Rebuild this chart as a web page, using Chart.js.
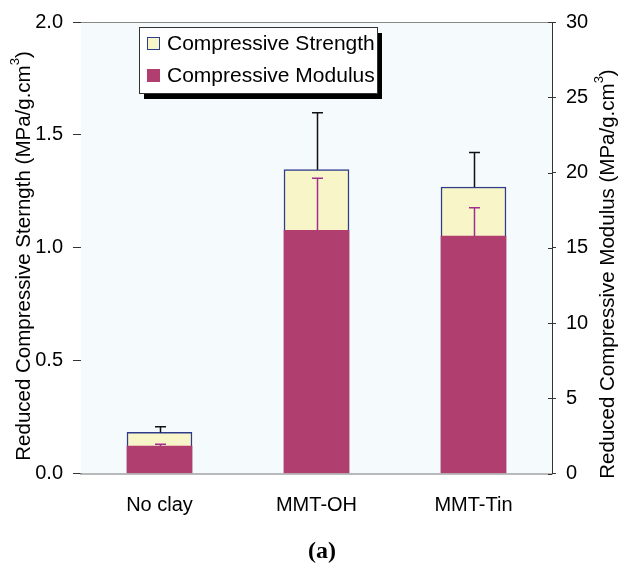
<!DOCTYPE html>
<html>
<head>
<meta charset="utf-8">
<script src="https://cdn.jsdelivr.net/npm/chart.js@4/dist/chart.umd.min.js"></script>
<style>
  body { margin: 0; background: #fff; }
  canvas { display: block; }
</style>
</head>
<body>
<canvas id="chart" width="618" height="564"></canvas>
<script>
// Data
const categories = ['No clay', 'MMT-OH', 'MMT-Tin'];
const strength = [0.182, 1.346, 1.269];
const strengthErr = [0.025, 0.252, 0.153];
const modulus = [1.82, 16.16, 15.77];
const modulusErr = [0.12, 3.45, 1.88];
const leftTicks = [0, 0.5, 1.0, 1.5, 2.0];
const rightTicks = [0, 5, 10, 15, 20, 25, 30];

const FONT = 'Liberation Sans, Arial, sans-serif';
const STRENGTH_FILL = '#F8F5C8';
const STRENGTH_BORDER = '#2E3C8C';
const MODULUS_FILL = '#B03F6F';

// Background, frame, error bars, legend and axis titles
const extras = {
    id: 'extras',
    beforeDatasetsDraw(chart) {
        const {ctx, chartArea: a} = chart;
        ctx.save();
        ctx.fillStyle = '#F5FAFD';
        ctx.fillRect(a.left, a.top, a.right - a.left, a.bottom - a.top);
        ctx.strokeStyle = '#888';
        ctx.lineWidth = 1;
        ctx.beginPath();
        ctx.moveTo(a.left, a.top + 0.5);
        ctx.lineTo(a.right, a.top + 0.5);
        ctx.stroke();
        ctx.restore();
    },
    afterDatasetsDraw(chart) {
        const {ctx} = chart;
        const y = chart.scales.y, y1 = chart.scales.y1;
        const drawErr = (meta, vals, errs, scale, color) => {
            meta.data.forEach((bar, i) => {
                const x = Math.round(bar.x) + 0.5;
                const y0 = scale.getPixelForValue(vals[i]);
                const yt = scale.getPixelForValue(vals[i] + errs[i]);
                ctx.strokeStyle = color;
                ctx.lineWidth = 1.5;
                ctx.beginPath();
                ctx.moveTo(x, y0);
                ctx.lineTo(x, yt);
                ctx.moveTo(x - 5.5, yt);
                ctx.lineTo(x + 5.5, yt);
                ctx.stroke();
            });
        };
        ctx.save();
        drawErr(chart.getDatasetMeta(1), modulus, modulusErr, y1, '#A0308F');
        drawErr(chart.getDatasetMeta(0), strength, strengthErr, y, '#111');
        ctx.restore();
    },
    afterDraw(chart) {
        const {ctx, chartArea: a} = chart;
        ctx.save();
        // inner half of right axis ticks
        const y1 = chart.scales.y1;
        ctx.strokeStyle = '#333';
        ctx.lineWidth = 1;
        rightTicks.forEach(v => {
            const py = Math.round(y1.getPixelForValue(v)) + 0.5;
            ctx.beginPath();
            ctx.moveTo(a.right - 4, py);
            ctx.lineTo(a.right, py);
            ctx.stroke();
        });

        // legend
        const lx = 139, ly = 27, lw = 238, lh = 66;
        ctx.fillStyle = '#000';
        ctx.fillRect(lx + 5, ly + 6, lw, lh);
        ctx.fillStyle = '#fff';
        ctx.fillRect(lx, ly, lw, lh);
        ctx.strokeStyle = '#333';
        ctx.lineWidth = 1;
        ctx.strokeRect(lx + 0.5, ly + 0.5, lw, lh);
        ctx.fillStyle = STRENGTH_FILL;
        ctx.fillRect(147, 37, 13, 13);
        ctx.strokeStyle = STRENGTH_BORDER;
        ctx.strokeRect(147.5, 37.5, 12, 12);
        ctx.fillStyle = MODULUS_FILL;
        ctx.fillRect(147, 69, 13, 13);
        ctx.fillStyle = '#000';
        ctx.font = '21px ' + FONT;
        ctx.textBaseline = 'middle';
        ctx.textAlign = 'left';
        ctx.fillText('Compressive Strength', 167, 44);
        ctx.fillText('Compressive Modulus', 167, 76);

        // axis titles with superscript
        const title = (cx, cy, text) => {
            ctx.save();
            ctx.translate(cx, cy);
            ctx.rotate(-Math.PI / 2);
            ctx.font = '20.5px ' + FONT;
            const w1 = ctx.measureText(text).width;
            ctx.font = '13px ' + FONT;
            const w2 = ctx.measureText('3').width;
            ctx.font = '20.5px ' + FONT;
            const w3 = ctx.measureText(')').width;
            let x = -(w1 + w2 + w3) / 2;
            ctx.textAlign = 'left';
            ctx.textBaseline = 'middle';
            ctx.fillText(text, x, 0);
            ctx.font = '13px ' + FONT;
            ctx.fillText('3', x + w1, -9);
            ctx.font = '20.5px ' + FONT;
            ctx.fillText(')', x + w1 + w2, 0);
            ctx.restore();
        };
        title(24, 256, 'Reduced Compressive Sterngth (MPa/g.cm');
        title(608, 274, 'Reduced Compressive Modulus (MPa/g.cm');

        // caption
        ctx.font = 'bold 24px Liberation Serif, Times New Roman, serif';
        ctx.textAlign = 'center';
        ctx.fillText('(a)', 322, 552);
        ctx.restore();
    }
};

new Chart(document.getElementById('chart'), {
    type: 'bar',
    data: {
        labels: categories,
        datasets: [
            {
                label: 'Compressive Strength',
                data: strength,
                yAxisID: 'y',
                backgroundColor: STRENGTH_FILL,
                borderColor: STRENGTH_BORDER,
                borderWidth: 1.5,
                order: 2
            },
            {
                label: 'Compressive Modulus',
                data: modulus,
                yAxisID: 'y1',
                backgroundColor: MODULUS_FILL,
                borderWidth: 0,
                order: 1
            }
        ]
    },
    options: {
        responsive: false,
        animation: false,
        layout: {padding: {top: 21, left: 0, right: 0, bottom: 0}},
        datasets: {bar: {grouped: false, barThickness: 65}},
        plugins: {legend: {display: false}, tooltip: {enabled: false}},
        scales: {
            x: {
                offset: true,
                grid: {display: false, drawTicks: false},
                border: {display: true, color: '#777', width: 1.5},
                ticks: {font: {family: FONT, size: 20}, color: '#000', padding: 20},
                afterFit(s) { s.height = 90.5; }
            },
            y: {
                position: 'left',
                min: 0,
                max: 2,
                afterBuildTicks(s) { s.ticks = leftTicks.map(v => ({value: v})); },
                grid: {drawOnChartArea: false, tickLength: 8, color: '#333'},
                border: {color: '#333'},
                ticks: {
                    font: {family: FONT, size: 20},
                    color: '#000',
                    padding: 10,
                    callback: v => v.toFixed(1)
                },
                afterFit(s) { s.width = 81; }
            },
            y1: {
                position: 'right',
                min: 0,
                max: 30,
                afterBuildTicks(s) { s.ticks = rightTicks.map(v => ({value: v})); },
                grid: {drawOnChartArea: false, tickLength: 4, color: '#333'},
                border: {color: '#333'},
                ticks: {font: {family: FONT, size: 20}, color: '#000', padding: 10},
                afterFit(s) { s.width = 66; }
            }
        }
    },
    plugins: [extras]
});
</script>
</body>
</html>
